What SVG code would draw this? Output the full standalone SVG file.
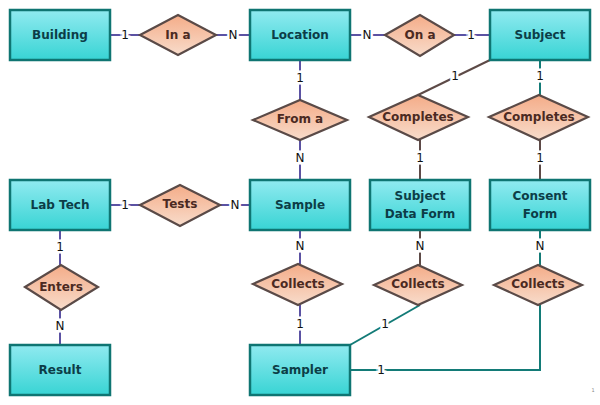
<svg xmlns="http://www.w3.org/2000/svg" width="600" height="405" viewBox="0 0 600 405">
<defs>
<linearGradient id="gBox" x1="0" y1="0" x2="0" y2="1">
<stop offset="0" stop-color="#90eaf0"/>
<stop offset="1" stop-color="#38d4d4"/>
</linearGradient>
<linearGradient id="gDia" x1="0" y1="0" x2="0" y2="1">
<stop offset="0" stop-color="#f4ac88"/>
<stop offset="1" stop-color="#f8dccb"/>
</linearGradient>
</defs>
<style>
.box{fill:url(#gBox);stroke:#0f7572;stroke-width:2.5}
.dia{fill:url(#gDia);stroke:#5a4a47;stroke-width:2.2}
.bt{font-family:"DejaVu Sans",sans-serif;font-weight:bold;font-size:12px;fill:#0c3d47;text-anchor:middle;dominant-baseline:central}
.dt{font-family:"DejaVu Sans",sans-serif;font-weight:bold;font-size:12px;fill:#4b2a22;text-anchor:middle;dominant-baseline:central}
.p{stroke:#5b52a3;stroke-width:2;fill:none}
.t{stroke:#137b77;stroke-width:2;fill:none}
.b{stroke:#5d4a47;stroke-width:2;fill:none}
.lb{font-family:"DejaVu Sans",sans-serif;font-size:12px;fill:#111;text-anchor:middle;dominant-baseline:central;stroke:#fff;stroke-width:5;paint-order:stroke}
</style>
<g id="connectors">
<line class="p" x1="110" y1="35" x2="140" y2="35"/><text class="lb" x="125" y="35">1</text>
<line class="p" x1="216" y1="35" x2="250" y2="35"/><text class="lb" x="233" y="35">N</text>
<line class="p" x1="350" y1="35" x2="385" y2="35"/><text class="lb" x="367" y="35">N</text>
<line class="p" x1="454" y1="35" x2="490" y2="35"/><text class="lb" x="471" y="35">1</text>
<line class="p" x1="300" y1="60" x2="300" y2="100"/><text class="lb" x="300" y="78">1</text>
<line class="p" x1="300" y1="140" x2="300" y2="180"/><text class="lb" x="300" y="158">N</text>
<line class="b" x1="490" y1="60" x2="418" y2="95"/><text class="lb" x="455" y="76">1</text>
<line class="t" x1="540" y1="60" x2="540" y2="95"/><text class="lb" x="540" y="76">1</text>
<line class="b" x1="420" y1="140" x2="420" y2="180"/><text class="lb" x="420" y="158">1</text>
<line class="b" x1="540" y1="140" x2="540" y2="180"/><text class="lb" x="540" y="158">1</text>
<line class="p" x1="110" y1="205" x2="140" y2="205"/><text class="lb" x="125" y="205">1</text>
<line class="p" x1="220" y1="205" x2="250" y2="205"/><text class="lb" x="235" y="205">N</text>
<line class="p" x1="60" y1="230" x2="60" y2="265"/><text class="lb" x="60" y="247">1</text>
<line class="p" x1="60" y1="310" x2="60" y2="345"/><text class="lb" x="60" y="326">N</text>
<line class="p" x1="300" y1="230" x2="300" y2="264"/><text class="lb" x="300" y="246">N</text>
<line class="p" x1="300" y1="305" x2="300" y2="345"/><text class="lb" x="300" y="324">1</text>
<line class="b" x1="420" y1="230" x2="420" y2="265"/><text class="lb" x="420" y="246">N</text>
<line class="t" x1="420" y1="305" x2="350" y2="345"/><text class="lb" x="385" y="324">1</text>
<line class="t" x1="540" y1="230" x2="540" y2="265"/><text class="lb" x="540" y="246">N</text>
<polyline class="t" points="540,305 540,370 350,370"/><text class="lb" x="381" y="370">1</text>
</g>
<g id="building"><rect class="box" x="10" y="10" width="100" height="50"/><text class="bt" x="60" y="35">Building</text></g>
<g id="location"><rect class="box" x="250" y="10" width="100" height="50"/><text class="bt" x="300" y="35">Location</text></g>
<g id="subject"><rect class="box" x="490" y="10" width="100" height="50"/><text class="bt" x="540" y="35">Subject</text></g>
<g id="labtech"><rect class="box" x="10" y="180" width="100" height="50"/><text class="bt" x="60" y="205">Lab Tech</text></g>
<g id="sample"><rect class="box" x="250" y="180" width="100" height="50"/><text class="bt" x="300" y="205">Sample</text></g>
<g id="subjectdataform"><rect class="box" x="370" y="180" width="100" height="50"/><text class="bt" x="420" y="196">Subject</text><text class="bt" x="420" y="214">Data Form</text></g>
<g id="consentform"><rect class="box" x="490" y="180" width="100" height="50"/><text class="bt" x="540" y="196">Consent</text><text class="bt" x="540" y="214">Form</text></g>
<g id="result"><rect class="box" x="10" y="345" width="100" height="50"/><text class="bt" x="60" y="370">Result</text></g>
<g id="sampler"><rect class="box" x="250" y="345" width="100" height="50"/><text class="bt" x="300" y="370">Sampler</text></g>
<g id="ina"><polygon class="dia" points="140,35 178,15 216,35 178,55"/><text class="dt" x="178" y="35">In a</text></g>
<g id="ona"><polygon class="dia" points="385,35 420,15 454,35 420,56"/><text class="dt" x="420" y="35">On a</text></g>
<g id="froma"><polygon class="dia" points="253,120 300,100 347,120 300,140"/><text class="dt" x="300" y="119">From a</text></g>
<g id="completes1"><polygon class="dia" points="369,117 418,95 468,117 418,140"/><text class="dt" x="418" y="117">Completes</text></g>
<g id="completes2"><polygon class="dia" points="489,117 539,95 588,117 539,140"/><text class="dt" x="539" y="117">Completes</text></g>
<g id="tests"><polygon class="dia" points="140,205 180,185 220,205 180,226"/><text class="dt" x="180" y="204">Tests</text></g>
<g id="enters"><polygon class="dia" points="25,287 61,265 98,287 61,310"/><text class="dt" x="61" y="287">Enters</text></g>
<g id="collects1"><polygon class="dia" points="253,284 298,264 342,284 298,305"/><text class="dt" x="298" y="284">Collects</text></g>
<g id="collects2"><polygon class="dia" points="374,285 418,265 462,285 418,305"/><text class="dt" x="418" y="284">Collects</text></g>
<g id="collects3"><polygon class="dia" points="494,285 538,265 582,285 538,305"/><text class="dt" x="538" y="284">Collects</text></g>
<text x="593" y="392" font-family="DejaVu Sans, sans-serif" font-size="5" fill="#888" text-anchor="middle">1</text>
</svg>
